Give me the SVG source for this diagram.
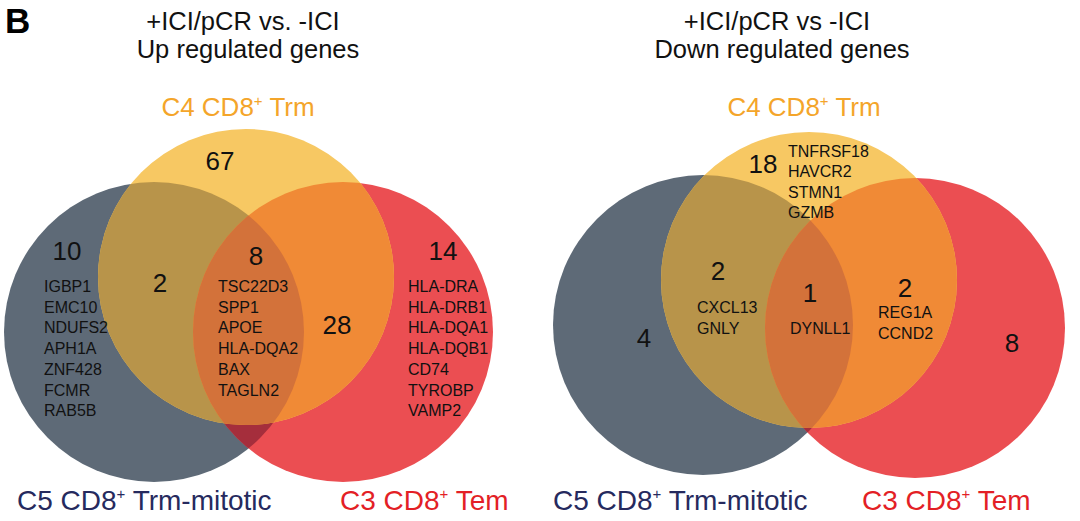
<svg xmlns="http://www.w3.org/2000/svg" width="1080" height="521" viewBox="0 0 1080 521">
<style>
text{font-family:"Liberation Sans",Arial,sans-serif;fill:#111}
.title{font-size:25.5px;text-anchor:middle}
.num{font-size:26px;text-anchor:middle}
.gene{font-size:16px}
.c4{font-size:26px;fill:#f4a52a;text-anchor:middle}
.c5{font-size:28px;fill:#262a5e}
.c3{font-size:28px;fill:#e31f26}
.sup{font-size:15px}
.blue{fill:#5e6a77}
.red{fill:#eb4e52}
.yel{fill:#f7c863}
.br{fill:#a52e3c}
.yb{fill:#b8944a}
.yr{fill:#f08a36}
.all{fill:#d3723a}
</style>
<defs>
<clipPath id="Lb"><circle cx="154" cy="332" r="150"/></clipPath>
<clipPath id="Lr"><circle cx="343" cy="332" r="150"/></clipPath>
<clipPath id="Rb"><circle cx="703" cy="325" r="150"/></clipPath>
<clipPath id="Rr"><circle cx="915" cy="328" r="150"/></clipPath>
</defs>
<text x="5" y="33" style="font-size:35px;font-weight:bold;fill:#000">B</text>

<g id="left-venn">
<g id="left-c5"><circle class="blue" cx="154" cy="332" r="150"/></g>
<g id="left-c3"><circle class="red" cx="343" cy="332" r="150"/></g>
<g id="left-c4"><circle class="yel" cx="246" cy="277" r="148"/></g>
<circle class="br" cx="343" cy="332" r="150" clip-path="url(#Lb)"/>
<circle class="yb" cx="246" cy="277" r="148" clip-path="url(#Lb)"/>
<circle class="yr" cx="246" cy="277" r="148" clip-path="url(#Lr)"/>
<g clip-path="url(#Lr)"><circle class="all" cx="246" cy="277" r="148" clip-path="url(#Lb)"/></g>
</g>

<g id="right-venn">
<g id="right-c5"><circle class="blue" cx="703" cy="325" r="150"/></g>
<g id="right-c3"><circle class="red" cx="915" cy="328" r="150"/></g>
<g id="right-c4"><circle class="yel" cx="809" cy="280" r="148"/></g>
<circle class="br" cx="915" cy="328" r="150" clip-path="url(#Rb)"/>
<circle class="yb" cx="809" cy="280" r="148" clip-path="url(#Rb)"/>
<circle class="yr" cx="809" cy="280" r="148" clip-path="url(#Rr)"/>
<g clip-path="url(#Rr)"><circle class="all" cx="809" cy="280" r="148" clip-path="url(#Rb)"/></g>
</g>

<g id="left-labels">
<text class="title" x="243" y="30">+ICI/pCR vs. -ICI</text>
<text class="title" x="248" y="58">Up regulated genes</text>
<text class="c4" x="238" y="116">C4 CD8<tspan class="sup" dy="-10">+</tspan><tspan dy="10"> Trm</tspan></text>
<text class="c5" x="17" y="510">C5 CD8<tspan class="sup" dy="-11">+</tspan><tspan dy="11"> Trm-mitotic</tspan></text>
<text class="c3" x="340" y="510">C3 CD8<tspan class="sup" dy="-11">+</tspan><tspan dy="11"> Tem</tspan></text>
<text class="num" x="220" y="170">67</text>
<text class="num" x="67" y="260">10</text>
<text class="num" x="160" y="292">2</text>
<text class="num" x="256" y="265">8</text>
<text class="num" x="443" y="260">14</text>
<text class="num" x="337" y="334">28</text>
<text class="gene" x="44" y="292">IGBP1<tspan x="44" dy="20.7">EMC10</tspan><tspan x="44" dy="20.7">NDUFS2</tspan><tspan x="44" dy="20.7">APH1A</tspan><tspan x="44" dy="20.7">ZNF428</tspan><tspan x="44" dy="20.7">FCMR</tspan><tspan x="44" dy="20.7">RAB5B</tspan></text>
<text class="gene" x="218" y="292">TSC22D3<tspan x="218" dy="20.7">SPP1</tspan><tspan x="218" dy="20.7">APOE</tspan><tspan x="218" dy="20.7">HLA-DQA2</tspan><tspan x="218" dy="20.7">BAX</tspan><tspan x="218" dy="20.7">TAGLN2</tspan></text>
<text class="gene" x="408" y="292">HLA-DRA<tspan x="408" dy="20.7">HLA-DRB1</tspan><tspan x="408" dy="20.7">HLA-DQA1</tspan><tspan x="408" dy="20.7">HLA-DQB1</tspan><tspan x="408" dy="20.7">CD74</tspan><tspan x="408" dy="20.7">TYROBP</tspan><tspan x="408" dy="20.7">VAMP2</tspan></text>
</g>

<g id="right-labels">
<text class="title" x="777" y="30">+ICI/pCR vs -ICI</text>
<text class="title" x="782" y="58">Down regulated genes</text>
<text class="c4" x="804" y="116">C4 CD8<tspan class="sup" dy="-10">+</tspan><tspan dy="10"> Trm</tspan></text>
<text class="c5" x="553" y="510">C5 CD8<tspan class="sup" dy="-11">+</tspan><tspan dy="11"> Trm-mitotic</tspan></text>
<text class="c3" x="862" y="510">C3 CD8<tspan class="sup" dy="-11">+</tspan><tspan dy="11"> Tem</tspan></text>
<text class="num" x="763" y="173">18</text>
<text class="num" x="718" y="280">2</text>
<text class="num" x="810" y="302">1</text>
<text class="num" x="905" y="297">2</text>
<text class="num" x="644" y="347">4</text>
<text class="num" x="1012" y="352">8</text>
<text class="gene" x="788" y="157">TNFRSF18<tspan x="788" dy="20.3">HAVCR2</tspan><tspan x="788" dy="20.3">STMN1</tspan><tspan x="788" dy="20.3">GZMB</tspan></text>
<text class="gene" x="697" y="313">CXCL13<tspan x="697" dy="21">GNLY</tspan></text>
<text class="gene" x="790" y="334">DYNLL1</text>
<text class="gene" x="878" y="318">REG1A<tspan x="878" dy="21">CCND2</tspan></text>
</g>
</svg>
